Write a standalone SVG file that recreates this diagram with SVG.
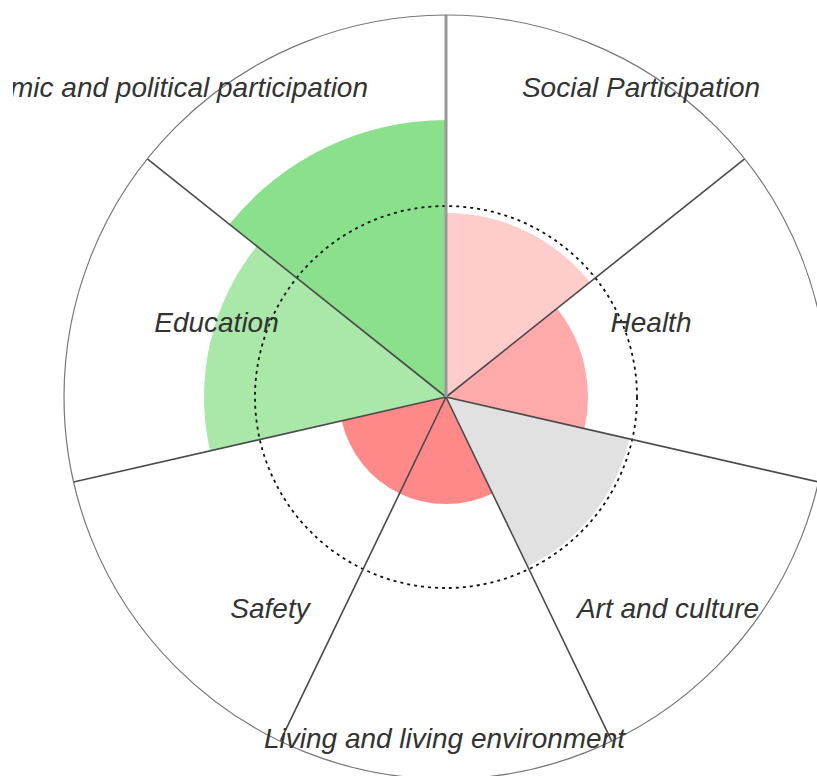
<svg xmlns="http://www.w3.org/2000/svg" width="817" height="776" viewBox="0 0 817 776">
<defs>
<style>
.lbl{font-family:"Liberation Sans",Arial,sans-serif;font-style:italic;font-size:28px;fill:#333;text-anchor:middle}
.div{stroke:#4a4a4a;stroke-width:1.6;fill:none}
</style>
<clipPath id="lclip"><rect x="13" y="0" width="804" height="776"/></clipPath>
</defs>
<rect width="817" height="776" fill="#fff"/>
<g id="sectors">
<g id="social"><path d="M446,397 L446,213 A184,184 0 0 1 589.86,282.28 Z" fill="#ffcccc"/></g>
<g id="health"><path d="M446,397 L557.02,308.46 A142,142 0 0 1 584.44,428.6 Z" fill="#ffaaaa"/></g>
<g id="art"><path d="M446,397 L629.29,438.83 A188,188 0 0 1 527.57,566.38 Z" fill="#e1e1e1"/></g>
<g id="living"><path d="M446,397 L492.43,493.4 A107,107 0 0 1 399.57,493.4 Z" fill="#ff8888"/></g>
<g id="safety"><path d="M446,397 L399.57,493.4 A107,107 0 0 1 341.68,420.81 Z" fill="#ff8888"/></g>
<g id="education"><path d="M446,397 L210.07,450.85 A242,242 0 0 1 256.8,246.12 Z" fill="#a9e8a9"/></g>
<g id="economic"><path d="M446,397 L229.43,224.29 A277,277 0 0 1 446,120 Z" fill="#8be08b"/></g>
</g>
<circle id="ref-circle" cx="446" cy="397" r="191" fill="none" stroke="#111" stroke-width="1.8" stroke-dasharray="3,4"/>
<g id="connectors">
<line class="div" x1="446" y1="397" x2="744.66" y2="158.83"/>
<line class="div" x1="446" y1="397" x2="818.42" y2="482"/>
<line class="div" x1="446" y1="397" x2="611.74" y2="741.17"/>
<line class="div" x1="446" y1="397" x2="280.26" y2="741.17"/>
<line class="div" x1="446" y1="397" x2="73.58" y2="482"/>
<line class="div" x1="446" y1="397" x2="147.34" y2="158.83"/>
<line x1="446" y1="397" x2="446" y2="15" stroke="#999" stroke-width="3"/>
</g>
<circle id="outer" cx="446" cy="397" r="382" fill="none" stroke="#777" stroke-width="1.2"/>
<g id="labels">
<text class="lbl" x="641" y="97">Social Participation</text>
<text class="lbl" x="651" y="332">Health</text>
<text class="lbl" x="668" y="618">Art and culture</text>
<text class="lbl" x="444.5" y="748">Living and living environment</text>
<text class="lbl" x="270" y="618">Safety</text>
<text class="lbl" x="216.5" y="332">Education</text>
<text class="lbl" x="368" y="97" style="text-anchor:end" clip-path="url(#lclip)">Economic and political participation</text>
</g>
</svg>
